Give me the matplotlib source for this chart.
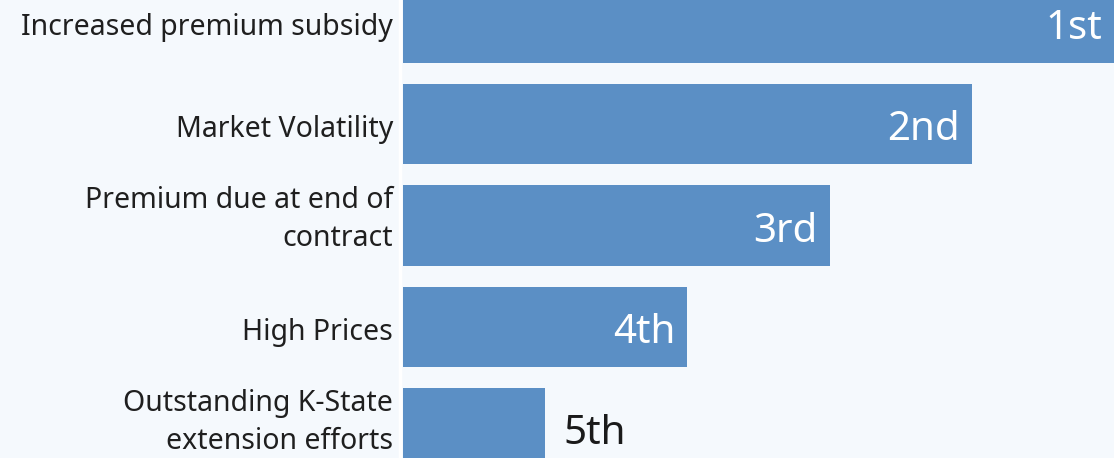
import matplotlib.pyplot as plt

categories = [
    "Increased premium subsidy",
    "Market Volatility",
    "Premium due at end of\ncontract",
    "High Prices",
    "Outstanding K-State\nextension efforts",
]
scores = [5, 4, 3, 2, 1]
rank_labels = ["1st", "2nd", "3rd", "4th", "5th"]

BG = "#f5f9fd"
BAR = "#5b8fc5"

plt.rcParams["font.family"] = ["Noto Sans", "DejaVu Sans"]

W, H = 1114, 458
fig = plt.figure(figsize=(W / 100, H / 100), dpi=100, facecolor=BG)
ax_left = 400 / W
ax = fig.add_axes([ax_left, 0, 1 - ax_left, 1])
ax.set_facecolor(BG)

pos = list(range(len(categories)))
ax.barh(pos, scores, height=0.79, color=BAR, zorder=2)

px_per_unit = 711 / 5
ax.set_xlim(-3 / px_per_unit, 5)
step = 101.5
ax.set_ylim((H - 22.5) / step, -22.5 / step)

# rank labels: inside the bar in white, or just past a short bar in black
for i, (v, lab) in enumerate(zip(scores, rank_labels)):
    if v >= 2:
        ax.annotate(lab, (v, i), xytext=(-12, -6), textcoords="offset pixels",
                    ha="right", va="center", color="white", fontsize=29,
                    annotation_clip=False)
    else:
        ax.annotate(lab, (v, i), xytext=(18, -5), textcoords="offset pixels",
                    ha="left", va="center", color="#1a1a1a", fontsize=29,
                    annotation_clip=False)

# category labels to the left of the axis
for i, cat in enumerate(categories):
    dy = 6 if "\n" in cat else -5
    ax.annotate(cat, (0, i), xytext=(-10, dy), textcoords="offset pixels",
                ha="right", va="center", multialignment="right",
                fontsize=20.5, color="#1f1f1f", linespacing=1.42,
                annotation_clip=False)

ax.set_yticks([])
ax.set_xticks([])

for s in ["top", "right", "bottom"]:
    ax.spines[s].set_visible(False)
ax.spines["left"].set_color("#ffffff")
ax.spines["left"].set_linewidth(2.5)
ax.spines["left"].set_zorder(3)

fig.savefig("out.png", dpi=100, facecolor=BG)
